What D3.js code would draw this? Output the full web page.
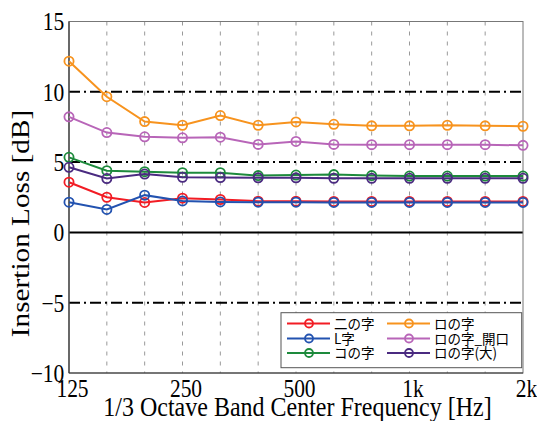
<!DOCTYPE html>
<html><head><meta charset="utf-8">
<script src="https://cdn.jsdelivr.net/npm/d3@7"></script>
<style>body{margin:0;background:#fff}</style>
</head><body>
<svg id="c" width="537" height="421"></svg>
<script>
const freqs = ["125","160","200","250","315","400","500","630","800","1k","1.25k","1.6k","2k"];
const tickLabels = ["125","250","500","1k","2k"];
const yTicks = [-10,-5,0,5,10,15];
const seriesNames = ["二の字","L字","コの字","ロの字","ロの字_開口","ロの字(大)"];
const seriesColors = ["#f21c24","#2252b0","#1d8a3c","#f7931e","#b865b8","#4a2a80"];
const niji   = [3.57,2.50,2.13,2.43,2.34,2.22,2.22,2.20,2.20,2.20,2.20,2.20,2.20];
const Lji    = [2.15,1.63,2.65,2.24,2.17,2.15,2.15,2.13,2.13,2.13,2.13,2.13,2.13];
const koji   = [5.34,4.39,4.32,4.25,4.25,4.04,4.08,4.11,4.04,4.01,4.01,4.01,4.01];
const roji   = [12.18,9.65,7.88,7.62,8.31,7.62,7.86,7.69,7.58,7.58,7.62,7.58,7.55];
const rojiKai= [8.22,7.10,6.80,6.73,6.77,6.26,6.47,6.26,6.24,6.24,6.24,6.24,6.19];
const rojiDai= [4.63,3.83,4.15,3.92,3.90,3.88,3.88,3.85,3.85,3.85,3.85,3.85,3.85];
const seriesValues = [niji,Lji,koji,roji,rojiKai,rojiDai];

const L=69,R=523,T=21.5,B=373;
const SY=1.17;
const svg=d3.select("#c");
const x=d3.scalePoint().domain(freqs).range([L,R]);
const y=d3.scaleLinear().domain([-10,15]).range([B,T]);
const serif="'Liberation Serif','Times New Roman',serif";

// vertical grid
svg.append("g").selectAll("line").data(freqs.slice(1,-1)).join("line")
  .attr("x1",d=>x(d)).attr("x2",d=>x(d)).attr("y1",T).attr("y2",B)
  .attr("stroke","#999").attr("stroke-width",1).attr("stroke-dasharray","4,6");
// horizontal dash-dot
svg.append("g").selectAll("line").data([10,5,-5]).join("line")
  .attr("x1",L).attr("x2",R).attr("y1",d=>y(d)).attr("y2",d=>y(d))
  .attr("stroke","#000").attr("stroke-width",2).attr("stroke-dasharray","11,4,2,4");
svg.append("line").attr("x1",L).attr("x2",R).attr("y1",y(0)).attr("y2",y(0))
  .attr("stroke","#000").attr("stroke-width",2);
// frame
svg.append("rect").attr("x",L).attr("y",T).attr("width",R-L).attr("height",B-T)
  .attr("fill","none").attr("stroke","#777").attr("stroke-width",1);
svg.append("line").attr("x1",L).attr("x2",L).attr("y1",T).attr("y2",B).attr("stroke","#333").attr("stroke-width",1.2);
svg.append("line").attr("x1",L).attr("x2",R).attr("y1",B).attr("y2",B).attr("stroke","#333").attr("stroke-width",1.2);

// axes labels
const yAxis=d3.axisLeft(y).tickValues(yTicks).tickSize(0).tickFormat(d=>d<0?"\u2212"+(-d):String(d));
const gy=svg.append("g").attr("transform",`translate(${L},0)`).call(yAxis);
gy.select(".domain").remove();
gy.attr("font-family",serif).attr("font-size",21.5);
gy.selectAll("text").attr("x",0).attr("dy",null).attr("y",0).attr("fill","#000")
  .attr("transform",`translate(-4.7,8.3) scale(1,${SY})`);
const xAxis=d3.axisBottom(x).tickValues(tickLabels).tickSize(0);
const gx=svg.append("g").attr("transform",`translate(0,${B})`).call(xAxis);
gx.select(".domain").remove();
gx.attr("font-family",serif).attr("font-size",21.5);
gx.selectAll("text").attr("y",0).attr("dy",null).attr("fill","#000")
  .attr("transform",`translate(3,23.5) scale(1,${SY})`);

svg.append("text").attr("transform",`translate(297.5,415.5) scale(1,1.12)`).attr("text-anchor","middle")
  .attr("font-family",serif).attr("font-size",24).text("1/3 Octave Band Center Frequency [Hz]");
svg.append("text").attr("transform",`translate(29,223.5) rotate(-90) scale(${SY},1)`).attr("text-anchor","middle")
  .attr("font-family",serif).attr("font-size",25).text("Insertion Loss [dB]");

// series
const line=d3.line().x((d,i)=>x(freqs[i])).y(d=>y(d));
seriesValues.forEach((vals,k)=>{
  const g=svg.append("g");
  g.append("path").datum(vals).attr("d",line).attr("fill","none").attr("stroke",seriesColors[k]).attr("stroke-width",2);
  g.selectAll("circle").data(vals).join("circle").attr("cx",(d,i)=>x(freqs[i])).attr("cy",d=>y(d))
    .attr("r",4.6).attr("fill","none").attr("stroke",seriesColors[k]).attr("stroke-width",1.8);
});

// legend
const lg=svg.append("g");
lg.append("rect").attr("x",281).attr("y",312.7).attr("width",240.7).attr("height",55)
  .attr("fill","#fff").attr("stroke","#555").attr("stroke-width",1);
const rowsY=[323.5,338.5,353];
seriesNames.forEach((n,k)=>{
  const col=Math.floor(k/3), row=k%3;
  const x0=col?387:287, yy=rowsY[row];
  lg.append("line").attr("x1",x0).attr("x2",x0+43).attr("y1",yy).attr("y2",yy).attr("stroke",seriesColors[k]).attr("stroke-width",2);
  lg.append("circle").attr("cx",x0+22).attr("cy",yy).attr("r",4).attr("fill","none").attr("stroke",seriesColors[k]).attr("stroke-width",1.8);
  lg.append("text").attr("transform",`translate(${x0+47},${yy+5}) scale(1,1.05)`)
    .attr("font-family","'Noto Sans CJK JP',sans-serif").attr("font-size",13.5).text(n);
});
</script>
</body></html>
